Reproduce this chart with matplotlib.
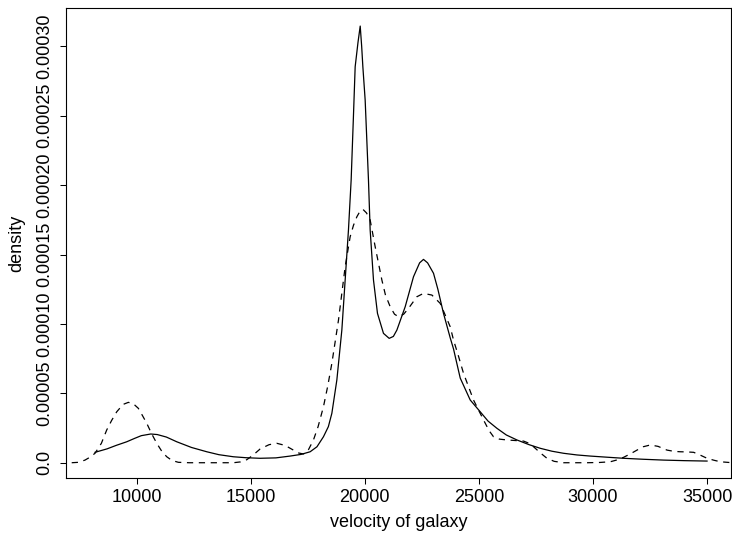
import matplotlib
matplotlib.use("Agg")
import matplotlib.pyplot as plt

# Solid curve
solid_x = [8171, 8700, 9100, 9561, 9900, 10200, 10614, 10900, 11300, 11754, 12400, 13070,
           13600, 14237, 14800, 15408, 16100, 16724, 17200, 17601, 17900, 18184, 18400,
           18553, 18772, 18991, 19136, 19281, 19399, 19500, 19575, 19700, 19796, 19860,
           19912, 20013, 20158, 20232, 20378, 20553, 20816, 21066, 21250, 21404, 21768,
           22132, 22400, 22570, 22750, 23009, 23200, 23447, 23741, 23886, 24180, 24618,
           25057, 25400, 25789, 26200, 26667, 27200, 27689, 28200, 28713, 29300, 29882,
           30600, 31342, 32200, 33096, 34000, 35000]
solid_y = [7.5e-6, 1.0e-5, 1.25e-5, 1.51e-5, 1.75e-5, 1.95e-5, 2.07e-5, 2.03e-5, 1.85e-5,
           1.51e-5, 1.1e-5, 7.9e-6, 5.8e-6, 4.3e-6, 3.6e-6, 3.2e-6, 3.5e-6, 4.8e-6, 6.0e-6,
           7.9e-6, 1.15e-5, 1.87e-5, 2.6e-5, 3.56e-5, 5.96e-5, 9.56e-5, 1.316e-4, 1.677e-4,
           2.037e-4, 2.5e-4, 2.853e-4, 3.03e-4, 3.146e-4, 3.0e-4, 2.853e-4, 2.613e-4,
           2.037e-4, 1.677e-4, 1.316e-4, 1.076e-4, 9.32e-5, 8.96e-5, 9.1e-5, 9.56e-5,
           1.124e-4, 1.34e-4, 1.44e-4, 1.465e-4, 1.44e-4, 1.365e-4, 1.25e-4, 1.076e-4,
           9.0e-5, 8.2e-5, 6.1e-5, 4.52e-5, 3.67e-5, 3.0e-5, 2.48e-5, 2.0e-5, 1.64e-5,
           1.3e-5, 1.04e-5, 8.3e-6, 6.8e-6, 5.6e-6, 4.8e-6, 4.0e-6, 3.2e-6, 2.5e-6, 1.9e-6,
           1.5e-6, 1.2e-6]

# Dashed curve
dash_x = [7149, 7450, 7732, 7950, 8171, 8450, 8684, 8900, 9123, 9400, 9632, 9850, 10070,
          10250, 10439, 10650, 10877, 11100, 11316, 11550, 11825, 12300, 13070, 14237,
          14550, 14825, 15100, 15408, 15800, 16140, 16500, 16868, 17100, 17307, 17500,
          17746, 17950, 18184, 18370, 18553, 18844, 19136, 19355, 19500, 19649, 19780,
          19912, 20070, 20232, 20452, 20746, 20900, 21110, 21300, 21474, 21700, 21913,
          22281, 22570, 22939, 23303, 23741, 23886, 24100, 24325, 24763, 25202, 25450,
          25640, 25900, 26228, 26600, 26957, 27200, 27396, 27700, 27982, 28300, 28713,
          29735, 30300, 30760, 31050, 31342, 31650, 31930, 32200, 32513, 32850, 33245,
          33550, 33829, 34100, 34414, 34700, 35000, 35300, 35583, 36109]
dash_y = [0.0, 3e-7, 1.9e-6, 4.0e-6, 6.8e-6, 1.4e-5, 2.36e-5, 3.05e-5, 3.67e-5, 4.2e-5,
          4.35e-5, 4.25e-5, 3.92e-5, 3.4e-5, 2.84e-5, 2.1e-5, 1.4e-5, 8.2e-6, 4.3e-6,
          1.6e-6, 3e-7, 0.0, 0.0, 0.0, 6e-7, 2.2e-6, 5.5e-6, 9.9e-6, 1.3e-5, 1.4e-5,
          1.25e-5, 9.1e-6, 7.0e-6, 6.3e-6, 8.5e-6, 1.64e-5, 2.6e-5, 4.03e-5, 5.5e-5,
          7.16e-5, 1.028e-4, 1.412e-4, 1.628e-4, 1.71e-4, 1.772e-4, 1.81e-4, 1.826e-4,
          1.8e-4, 1.749e-4, 1.556e-4, 1.316e-4, 1.21e-4, 1.124e-4, 1.07e-4, 1.052e-4,
          1.07e-4, 1.112e-4, 1.196e-4, 1.22e-4, 1.208e-4, 1.148e-4, 9.8e-5, 8.84e-5,
          7.7e-5, 6.44e-5, 4.52e-5, 3.08e-5, 2.3e-5, 1.87e-5, 1.7e-5, 1.64e-5, 1.6e-5,
          1.56e-5, 1.4e-5, 1.15e-5, 7.0e-6, 3.2e-6, 1.0e-6, 0.0, 0.0, 2e-7, 7e-7, 2.0e-6,
          3.9e-6, 6.5e-6, 9.1e-6, 1.15e-5, 1.28e-5, 1.18e-5, 9.1e-6, 8.2e-6, 7.9e-6,
          7.8e-6, 7.5e-6, 5.5e-6, 3.2e-6, 1.8e-6, 7e-7, 0.0]

x_ticks = [10000, 15000, 20000, 25000, 30000, 35000]
x_tick_labels = ["10000", "15000", "20000", "25000", "30000", "35000"]
y_ticks = [0.0, 0.00005, 0.00010, 0.00015, 0.00020, 0.00025, 0.00030]
y_tick_labels = ["0.0", "0.00005", "0.00010", "0.00015", "0.00020", "0.00025", "0.00030"]

plt.rcParams['font.family'] = ['Liberation Sans', 'DejaVu Sans']

W, H = 732, 536
fig = plt.figure(figsize=(W / 100, H / 100), dpi=100)
left, right, top, bottom = 66, 731, 8.3, 478
ax = fig.add_axes([left / W, 1 - bottom / H, (right - left) / W, (bottom - top) / H])

ax.plot(solid_x, solid_y, color='black', lw=0.9, solid_joinstyle='round')
ax.plot(dash_x, dash_y, color='black', lw=0.9, linestyle=(0, (5, 4.5)))

ax.set_xlim(6899, 36050)
ax.set_ylim(-1.10e-5, 3.274e-4)

ax.set_xticks(x_ticks)
ax.set_xticklabels(x_tick_labels)
ax.set_yticks(y_ticks)
ax.set_yticklabels(y_tick_labels, rotation=90, va='center')

ax.tick_params(axis='both', direction='out', length=4, width=0.75, labelsize=13, colors='black')
ax.tick_params(axis='x', pad=4)
ax.tick_params(axis='y', pad=5)
for s in ax.spines.values():
    s.set_linewidth(0.8)
    s.set_color('black')

ax.set_xlabel("velocity of galaxy", fontsize=13, labelpad=6)
ax.set_ylabel("density", fontsize=13, labelpad=8)

fig.savefig("out.png", dpi=100)
